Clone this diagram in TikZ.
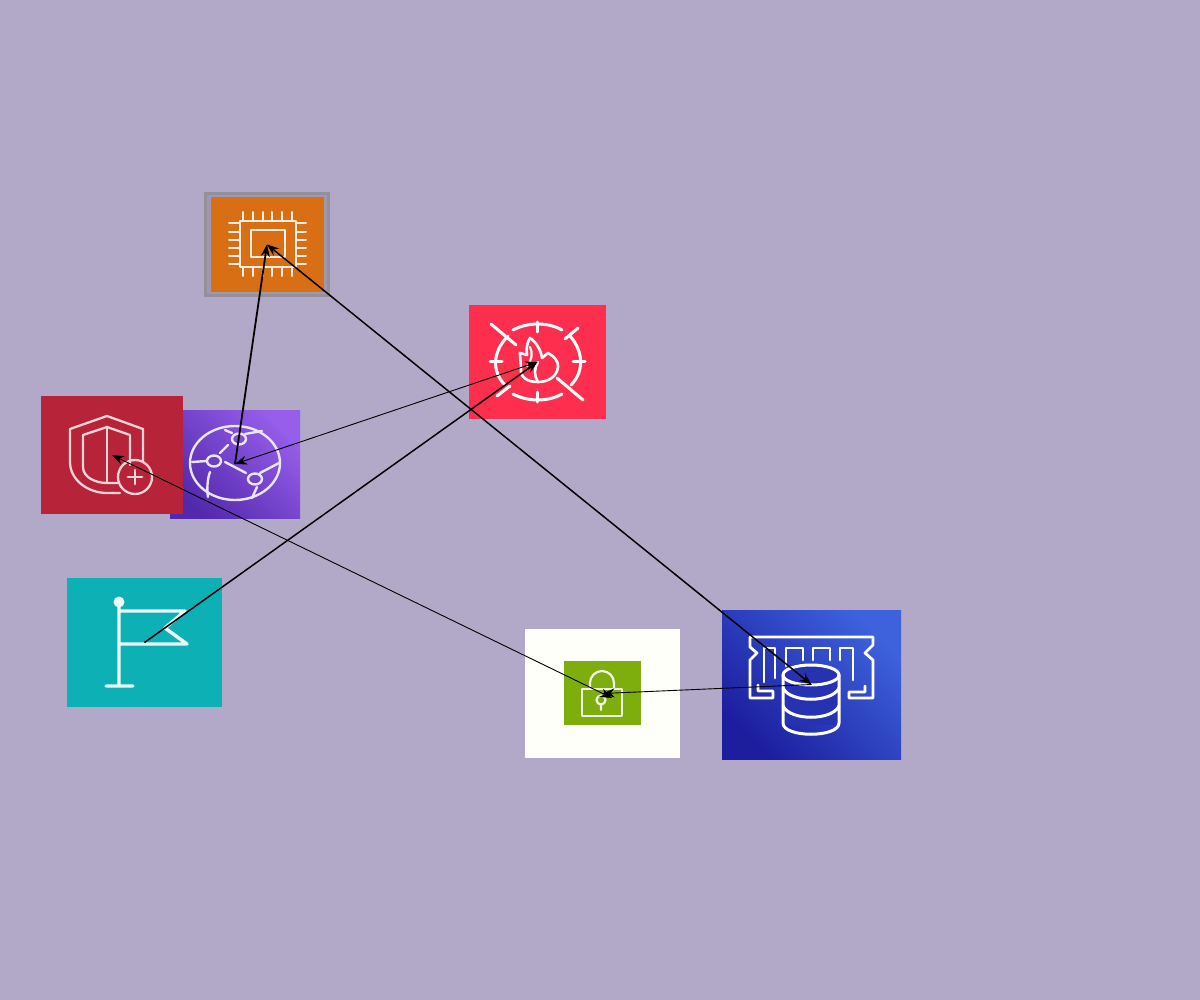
\documentclass[tikz,border=0pt]{standalone}
\usetikzlibrary{arrows.meta}
\definecolor{bgc}{HTML}{B1A9C7}
\definecolor{orangec}{HTML}{D86F15}
\definecolor{redfw}{HTML}{FE2F4E}
\definecolor{redsh}{HTML}{B7243A}
\definecolor{tealc}{HTML}{0DB1B5}
\definecolor{greenc}{HTML}{7DAE0E}
\definecolor{whitec}{HTML}{FFFFFA}
\definecolor{purpleA}{HTML}{5229AC}
\definecolor{purpleB}{HTML}{965EEA}
\definecolor{blueA}{HTML}{1C1E9E}
\definecolor{blueB}{HTML}{3D62DC}
\tikzset{
  x=1pt,y=-1pt,
  tile/.style={inner sep=0pt,outer sep=0pt,draw=none,minimum width=#1},
  glyph/.style={draw=white,line width=3pt,line cap=round,line join=round,fill=none},
  chipline/.style={glyph,draw=white!88!orangec,line width=2.2pt},
  shieldline/.style={glyph,draw=white!80!redsh,line width=2.3pt},
  cfline/.style={glyph,draw=white!88!purpleA,line width=2.4pt},
  lockline/.style={glyph,draw=white!88!greenc,line width=2.2pt},
  link/.style={draw=black,line width=#1,-{Stealth[length=12pt,width=9pt]}},
  dlink/.style={draw=black,line width=#1,{Stealth[length=12pt,width=9pt]}-{Stealth[length=12pt,width=9pt]}}
}
\begin{document}
\begin{tikzpicture}
\useasboundingbox (0,0) rectangle (1200,1000);
\fill[bgc] (0,0) rectangle (1200,1000);
% tiles
\node[tile=123pt,minimum height=102pt,fill=bgc!90!black,draw=gray!60!bgc,line width=3pt] (ec2frame) at (267,244.5) {};
\node[tile=113pt,minimum height=95pt,fill=orangec] (ec2) at (267,244.5) {};
\node[tile=137pt,minimum height=114pt,fill=redfw] (fw) at (537.5,362) {};
\node[tile=130pt,minimum height=108pt,bottom color=purpleA,top color=purpleB,shading angle=-45] (cf) at (235,464) {};
\node[tile=142pt,minimum height=118pt,fill=redsh] (shield) at (112,455) {};
\node[tile=155pt,minimum height=129pt,fill=tealc] (flag) at (144.5,642.5) {};
\node[tile=155pt,minimum height=129pt,fill=whitec] (lock) at (602.5,693.5) {};
\node[tile=77pt,minimum height=64pt,fill=greenc] (lockin) at (602.5,693) {};
\node[tile=179pt,minimum height=149pt,bottom color=blueA,top color=blueB,shading angle=-45] (db) at (811.5,684.5) {};
\coordinate (lockend) at (612,698);
% EC2 chip
\draw[chipline] (240,221) rectangle (296,267);
\draw[chipline,line width=2.6pt] (251,230) rectangle (285,257);
\foreach \px in {243,253,263,272,282,292} \draw[chipline,line width=2pt] (\px,212)--(\px,221) (\px,267)--(\px,276);
\foreach \py in {223,232,240,248,256,264} \draw[chipline,line width=2pt] (229,\py)--(240,\py) (296,\py)--(306,\py);
% firewall
\draw[glyph] (491,324)--(516,345) (578,328)--(565,339) (557,378)--(583,400) (497,396)--(510,386);
\draw[glyph] (537,322)--(537,332) (537,392)--(537,402) (490,362)--(502,362) (573,362)--(585,362);
\draw[glyph] (513,330) .. controls (528,322) and (548,322) .. (562,330);
\draw[glyph] (508,336) .. controls (492,352) and (492,372) .. (505,385);
\draw[glyph] (570,336) .. controls (584,352) and (584,372) .. (571,385);
\draw[glyph] (513,394) .. controls (528,402) and (548,402) .. (562,394);
\draw[glyph,line width=2.6pt] (538,382) .. controls (527,382) and (520,377) .. (521,369) .. controls (521,363) and (520,358) .. (520,353) -- (527,355) .. controls (526,349) and (527,343) .. (530,338) .. controls (536,342) and (541,350) .. (542,358) -- (548,353) .. controls (554,356) and (559,362) .. (558,367) .. controls (557,376) and (549,382) .. (538,382) .. controls (534,376) and (534,368) .. (538,362);
\draw[glyph,line width=2.2pt] (530,347) .. controls (533,353) and (532,360) .. (527,366);
% shield
\draw[shieldline] (143,462)--(143,429)--(107,416)--(70,429)--(70,462) .. controls (70,480) and (88,493) .. (107,493) -- (120,493);
\draw[shieldline] (130,465)--(130,435)--(107,427)--(83,435)--(83,467) .. controls (83,477) and (95,483) .. (107,483) -- (118,483);
\draw[shieldline] (107,427)--(107,483);
\draw[shieldline] (135,477) circle[radius=17pt];
\draw[shieldline,line width=2.8pt] (128,477)--(142,477) (135,470)--(135,484);
% cloudfront
\draw[cfline] (235,463) ellipse[x radius=45pt,y radius=37pt];
\foreach \cx/\cy in {239/439,214/461,255/479} \draw[cfline] (\cx,\cy) ellipse[x radius=7pt,y radius=5.5pt];
\draw[cfline] (220,453)--(228,445) (225,462)--(246,473) (192,462)--(207,461) (210,472)..controls (207,480) and (207,490)..(208,497) (257,487)--(252,498) (225,430)--(232,433) (245,434)--(262,431) (260,473)--(279,463);
% flag
\fill[white!92!tealc] (119,602) circle[radius=5.5pt];
\draw[glyph,line width=3.4pt,draw=white!92!tealc] (119,602)--(119,686) (106,686)--(133,686) (119,611)--(185,611)--(165,628)--(187,644)--(119,644);
% lock
\draw[lockline] (582,689) rectangle (622,716);
\draw[lockline] (590,689) -- (590,683) arc[start angle=180,end angle=0,x radius=12pt,y radius=12pt] -- (614,689);
\draw[lockline] (601,700) circle[radius=4.5pt] (601,704.5)--(601,710);
% memory db
\draw[glyph,line width=2.8pt] (758,685)--(758,691)--(773,691)--(773,698)--(750,698)--(750,660)--(757,653)--(750,647)--(750,637)--(873,637)--(873,645)--(865,653)--(873,660)--(873,698)--(849,698)--(849,692)--(865,692)--(865,686);
\draw[glyph,line width=2.8pt] (764,682)--(764,648)--(775,648)--(775,678) (786,666)--(786,648)--(803,648)--(803,660) (813,660)--(813,648)--(830,648)--(830,660) (840,660)--(840,648)--(853,648)--(853,680);
\fill[blueA!70!blueB] (811,675) ellipse[x radius=28pt,y radius=10pt];
\fill[blueA!70!blueB] (783,675) rectangle (839,725);
\draw[glyph] (811,675) ellipse[x radius=28pt,y radius=10pt];
\draw[glyph] (783,675)--(783,723) .. controls (783,738) and (839,738) .. (839,723) -- (839,675);
\draw[glyph] (783,688) .. controls (790,703) and (832,703) .. (839,688);
\draw[glyph] (783,706) .. controls (790,721) and (832,721) .. (839,706);
% connectors
\draw[dlink=1.5pt] (db.center) -- (ec2.center);
\draw[link=1.8pt] (cf.center) -- (ec2.center);
\draw[dlink=0.9pt] (cf.center) -- (fw.center);
\draw[link=1.5pt] (flag.center) -- (fw.center);
\draw[dlink=0.9pt] (shield.center) -- (lockend);
\draw[link=0.9pt] (db.center) -- (lock.center);
\end{tikzpicture}
\end{document}
